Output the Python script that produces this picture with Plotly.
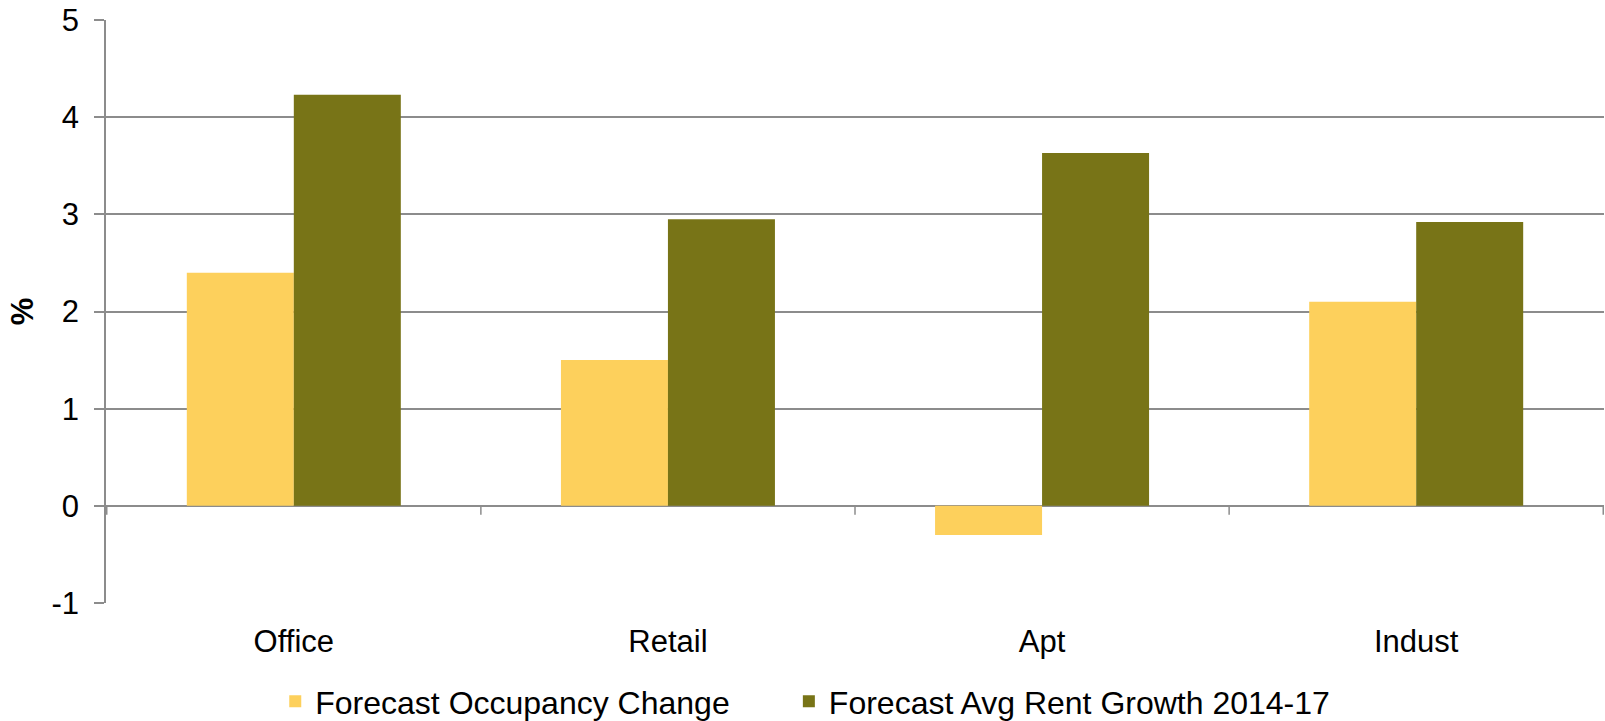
import plotly.graph_objects as go

categories = ["Office", "Retail", "Apt", "Indust"]
occupancy = [2.40, 1.50, -0.30, 2.10]
rent_growth = [4.23, 2.95, 3.63, 2.92]
series_names = ["Forecast Occupancy Change", "Forecast Avg Rent Growth 2014-17"]
y_ticks = [-1, 0, 1, 2, 3, 4, 5]
y_tick_labels = ["-1", "0", "1", "2", "3", "4", "5"]

FONT = "Liberation Sans, Arial, sans-serif"
GRID = "#8c8c8c"

fig = go.Figure()
fig.add_trace(go.Bar(x=categories, y=occupancy, name=series_names[0], legend="legend",
                     marker=dict(color="#FDD05C", line=dict(width=0))))
fig.add_trace(go.Bar(x=categories, y=rent_growth, name=series_names[1], legend="legend2",
                     marker=dict(color="#787417", line=dict(width=0))))

# category boundary ticks on the zero line
for b in [-0.5, 0.5, 1.5, 2.5, 3.5]:
    fig.add_shape(type="line", xref="x", yref="y", x0=b, x1=b, y0=0, y1=-0.093,
                  line=dict(color=GRID, width=1.5), layer="above")

fig.add_annotation(text="<b>%</b>", xref="paper", yref="paper", x=-0.0555, y=0.5,
                   xanchor="center", yanchor="middle",
                   textangle=-90, showarrow=False,
                   font=dict(family=FONT, size=31, color="black"))

legend_common = dict(orientation="h", xref="container", yref="container",
                     xanchor="left", yanchor="middle", bgcolor="rgba(0,0,0,0)",
                     font=dict(family=FONT, size=32, color="black"),
                     itemwidth=30)

fig.update_layout(
    width=1605, height=721,
    margin=dict(l=106, r=1, t=20, b=118),
    paper_bgcolor="white", plot_bgcolor="white",
    barmode="group", bargap=0.428, bargroupgap=0,
    font=dict(family=FONT, size=31, color="black"),
    showlegend=True,
    legend=dict(x=0.1715, y=0.027, **legend_common),
    legend2=dict(x=0.4915, y=0.027, **legend_common),
    xaxis=dict(type="category", showgrid=False, showline=False, ticks="",
               zeroline=False, ticklabelstandoff=17,
               tickfont=dict(family=FONT, size=31, color="black")),
    yaxis=dict(range=[-1, 5], tickvals=y_ticks, ticktext=y_tick_labels,
               showgrid=True, gridcolor=GRID,
               gridwidth=1.5, zeroline=True, zerolinecolor=GRID, zerolinewidth=1.5,
               showline=True, linecolor=GRID, linewidth=1.5,
               ticks="outside", ticklen=10, tickcolor=GRID, tickwidth=1.5,
               ticklabelstandoff=9,
               tickfont=dict(family=FONT, size=31, color="black")),
)

fig.write_html("out.html")
